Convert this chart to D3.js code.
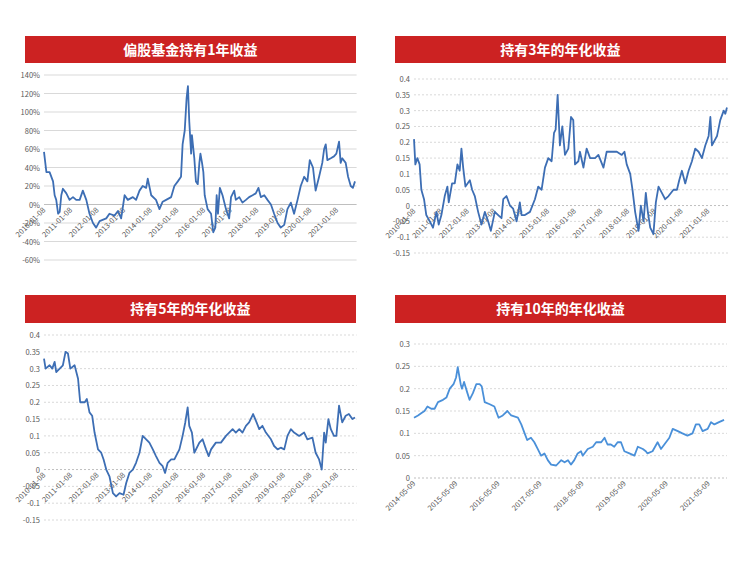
<!DOCTYPE html><html><head><meta charset="utf-8"><script src="https://cdn.jsdelivr.net/npm/d3@7"></script>
<style>body{margin:0;background:#fff}text{font-family:"Noto Sans CJK SC","DejaVu Sans",sans-serif}</style></head><body>
<svg id="c" width="750" height="563"></svg>
<script>
// Panel 1: 1-year holding return (years since 2010-01-08)
const t1=[0,.09,.21,.34,.40,.46,.53,.59,.65,.71,.84,.96,1.09,1.21,1.34,1.46,1.59,1.71,1.84,1.96,2.09,2.34,2.46,2.65,2.78,2.90,3.03,3.15,3.34,3.46,3.59,3.71,3.84,3.90,4.03,4.21,4.34,4.46,4.59,4.78,4.90,5.03,5.15,5.21,5.29,5.36,5.41,5.46,5.53,5.56,5.65,5.71,5.78,5.84,5.88,5.94,5.99,6.04,6.15,6.28,6.36,6.44,6.49,6.54,6.61,6.71,6.84,6.96,7.03,7.15,7.21,7.34,7.46,7.59,7.71,7.84,7.96,8.06,8.15,8.28,8.40,8.53,8.65,8.78,8.90,9.03,9.15,9.28,9.40,9.53,9.65,9.78,9.90,9.99,10.11,10.21,10.34,10.46,10.53,10.59,10.65,10.78,10.90,10.99,11.09,11.15,11.21,11.34,11.43,11.53,11.61,11.69];
const v1=[.57,.35,.35,.25,.10,.05,-.10,-.08,.10,.17,.12,.05,.08,.05,.05,.15,.05,-.10,-.20,-.25,-.18,-.15,-.10,-.12,-.07,-.15,.10,.05,.08,.05,.15,.20,.18,.28,.10,.05,-.05,.03,.05,.08,.20,.25,.30,.65,.80,1.15,1.28,.90,.55,.75,.50,.25,.22,.45,.55,.45,.35,.10,-.05,-.10,-.30,-.25,.10,-.10,.18,.10,-.05,-.15,.08,.15,.05,.08,.02,.05,.08,.10,.12,.18,.08,.10,.05,0,-.10,-.20,-.25,-.22,-.05,.02,-.10,.05,.20,.30,.25,.48,.40,.15,.30,.45,.60,.65,.48,.50,.52,.55,.68,.45,.50,.45,.30,.20,.18,.25];
// Panel 2: 3-year annualized (years since 2010-01-08)
const t2=[0,.05,.125,.21,.275,.375,.46,.59,.71,.84,.925,1.025,1.15,1.25,1.3,1.425,1.525,1.625,1.71,1.775,1.84,1.925,2.09,2.175,2.275,2.4,2.525,2.65,2.775,2.875,3.025,3.15,3.275,3.34,3.46,3.59,3.71,3.84,3.96,4.025,4.15,4.34,4.525,4.65,4.775,4.9,5.025,5.15,5.24,5.3,5.375,5.46,5.55,5.65,5.775,5.875,5.96,6.025,6.15,6.21,6.34,6.46,6.59,6.775,6.9,7.09,7.21,7.4,7.59,7.775,7.875,7.96,8.09,8.175,8.275,8.4,8.49,8.59,8.675,8.75,8.84,8.96,9.05,9.15,9.275,9.4,9.525,9.71,9.84,9.925,10.025,10.15,10.275,10.4,10.525,10.65,10.775,10.9,11.025,11.09,11.15,11.275,11.34,11.46,11.59,11.65,11.71];
const v2=[.21,.13,.15,.13,.05,.02,-.03,-.05,-.07,-.02,-.06,-.03,.03,.06,.01,.07,.07,.13,.11,.18,.12,.06,.08,.05,.03,-.02,-.06,-.02,-.05,-.08,-.02,-.03,-.04,.02,.03,0,-.01,-.05,.01,-.03,-.03,-.02,.02,.06,.05,.12,.15,.14,.23,.24,.35,.19,.25,.16,.18,.28,.27,.13,.14,.17,.12,.18,.15,.15,.16,.12,.17,.17,.17,.16,.17,.13,.10,.05,-.02,-.08,0,-.05,.04,-.02,-.07,-.09,.01,.06,.04,.02,.03,.05,.05,.08,.11,.07,.11,.14,.18,.17,.15,.19,.22,.28,.19,.21,.22,.27,.30,.29,.31];
// Panel 3: 5-year annualized (years since 2010-01-08)
const t3=[0,.06,.21,.31,.40,.46,.59,.71,.81,.90,.99,1.15,1.28,1.36,1.53,1.61,1.71,1.81,1.90,2.03,2.15,2.24,2.34,2.46,2.59,2.71,2.84,2.99,3.09,3.21,3.34,3.46,3.59,3.71,3.84,3.96,4.09,4.21,4.34,4.46,4.55,4.65,4.78,4.90,5.09,5.21,5.31,5.40,5.46,5.56,5.65,5.84,5.96,6.09,6.19,6.28,6.46,6.65,6.84,7.09,7.21,7.34,7.46,7.59,7.71,7.86,7.99,8.09,8.21,8.34,8.53,8.65,8.78,8.90,9.03,9.15,9.28,9.40,9.59,9.78,9.90,10.09,10.21,10.34,10.44,10.53,10.59,10.69,10.78,10.90,10.99,11.09,11.21,11.34,11.46,11.59,11.69];
const v3=[.33,.30,.31,.30,.32,.29,.30,.31,.35,.345,.30,.31,.27,.20,.20,.21,.17,.16,.11,.06,.05,.03,0,-.02,-.07,-.08,-.07,-.075,-.04,-.01,0,.02,.05,.10,.09,.08,.06,.04,.02,.01,-.01,.02,.03,.03,.06,.10,.14,.185,.13,.11,.05,.08,.09,.06,.04,.06,.08,.08,.10,.12,.11,.12,.11,.13,.14,.165,.14,.12,.13,.11,.09,.07,.06,.065,.06,.10,.12,.11,.10,.11,.09,.095,.05,.03,0,.11,.08,.15,.12,.10,.10,.19,.14,.16,.165,.15,.155];
// Panel 4: 10-year annualized (years since 2014-05-09)
const t4=[0,.095,.17,.25,.32,.41,.49,.57,.69,.77,.85,.94,1.0,1.04,1.11,1.14,1.19,1.27,1.32,1.40,1.48,1.56,1.61,1.68,1.80,1.91,2.01,2.11,2.22,2.31,2.47,2.55,2.63,2.69,2.78,2.86,2.94,3.02,3.10,3.18,3.26,3.38,3.50,3.58,3.66,3.73,3.81,3.89,3.97,4.01,4.13,4.25,4.33,4.45,4.53,4.60,4.68,4.76,4.84,4.92,5.00,5.12,5.24,5.32,5.44,5.51,5.55,5.67,5.79,5.87,5.99,6.07,6.15,6.27,6.38,6.50,6.62,6.70,6.78,6.86,6.98,7.06,7.14,7.25,7.37];
const v4=[.135,.14,.145,.15,.16,.155,.155,.17,.175,.18,.20,.21,.225,.248,.21,.20,.215,.19,.175,.19,.21,.21,.205,.17,.165,.16,.135,.14,.15,.14,.135,.12,.10,.085,.09,.08,.065,.05,.055,.04,.03,.028,.04,.035,.04,.03,.04,.055,.06,.05,.065,.07,.08,.08,.09,.075,.075,.07,.08,.08,.06,.055,.05,.07,.065,.06,.055,.06,.08,.065,.08,.09,.11,.105,.10,.095,.10,.12,.12,.105,.11,.125,.12,.125,.13];
const titles=["偏股基金持有1年收益","持有3年的年化收益","持有5年的年化收益","持有10年的年化收益"];
const xt1=d3.range(2010,2022).map(y=>y+"-01-08");
const xt4=d3.range(2014,2022).map(y=>y+"-05-09");
const yt1=[-0.6,-0.4,-0.2,0,0.2,0.4,0.6,0.8,1.0,1.2,1.4];
const yt2=[-0.15,-0.1,-0.05,0,0.05,0.1,0.15,0.2,0.25,0.3,0.35,0.4];
const yt4=[0,0.05,0.1,0.15,0.2,0.25,0.3];

const svg=d3.select("#c");
const panels=[
 {t:t1,v:v1,title:titles[0],bar:[25,36,331,27],xr:[44,356.6],xd:[0,11.75],yd:[-0.6,1.4],yr:[260,75],yt:yt1,xt:xt1,fmt:d=>Math.round(d*100)+"%",col:"#3d6eb4",solid:true,axis0:true},
 {t:t2,v:v2,title:titles[1],bar:[395,36,331,27],xr:[414,728],xd:[0,11.75],yd:[-0.15,0.4],yr:[253,79],yt:yt2,xt:xt1,fmt:d=>+d.toFixed(2)+"",col:"#3d6eb4",axis0:true},
 {t:t3,v:v3,title:titles[2],bar:[25,295,331,28],xr:[44,356.6],xd:[0,11.75],yd:[-0.15,0.4],yr:[520,335],yt:yt2,xt:xt1,fmt:d=>+d.toFixed(2)+"",col:"#3d6eb4",axis0:true},
 {t:t4,v:v4,title:titles[3],bar:[395,295,331,28],xr:[414,727],xd:[0,7.44],yd:[0,0.3],yr:[478,344],yt:yt4,xt:xt4,fmt:d=>+d.toFixed(2)+"",col:"#4a90d9",axis0:true}
];
panels.forEach(p=>{
 const g=svg.append("g");
 g.append("rect").attr("x",p.bar[0]).attr("y",p.bar[1]).attr("width",p.bar[2]).attr("height",p.bar[3]).attr("fill","#cc2222");
 g.append("text").attr("x",p.bar[0]+p.bar[2]/2).attr("y",p.bar[1]+p.bar[3]/2+5).attr("text-anchor","middle").attr("fill","#fff").attr("font-size",14).attr("font-weight","bold").text(p.title);
 const x=d3.scaleLinear().domain(p.xd).range(p.xr);
 const y=d3.scaleLinear().domain(p.yd).range(p.yr);
 g.append("g").selectAll("line").data(p.yt).join("line").attr("x1",p.xr[0]).attr("x2",p.xr[1]).attr("y1",d=>y(d)).attr("y2",d=>y(d))
  .attr("stroke",d=>Math.abs(d)<1e-9?"#bfbfbf":"#d9d9d9").attr("stroke-width",1).attr("stroke-dasharray",p.solid?null:"2,2");
 g.append("g").selectAll("text").data(p.yt).join("text").attr("x",p.xr[0]-4).attr("y",d=>y(d)+3).attr("text-anchor","end").attr("font-size",7.5).attr("fill","#595959").text(p.fmt);
 const y0=y(0);
 g.append("g").selectAll("text").data(p.xt).join("text").attr("font-size",7.5).attr("fill","#595959").attr("text-anchor","end")
  .attr("transform",(d,i)=>`translate(${x(i)+2},${y0+6}) rotate(-45)`).text(d=>d);
 const line=d3.line().x((d,i)=>x(p.t[i])).y(d=>y(d));
 g.append("path").datum(p.v).attr("d",line).attr("fill","none").attr("stroke",p.col).attr("stroke-width",1.8).attr("stroke-linejoin","round");
});
</script></body></html>
